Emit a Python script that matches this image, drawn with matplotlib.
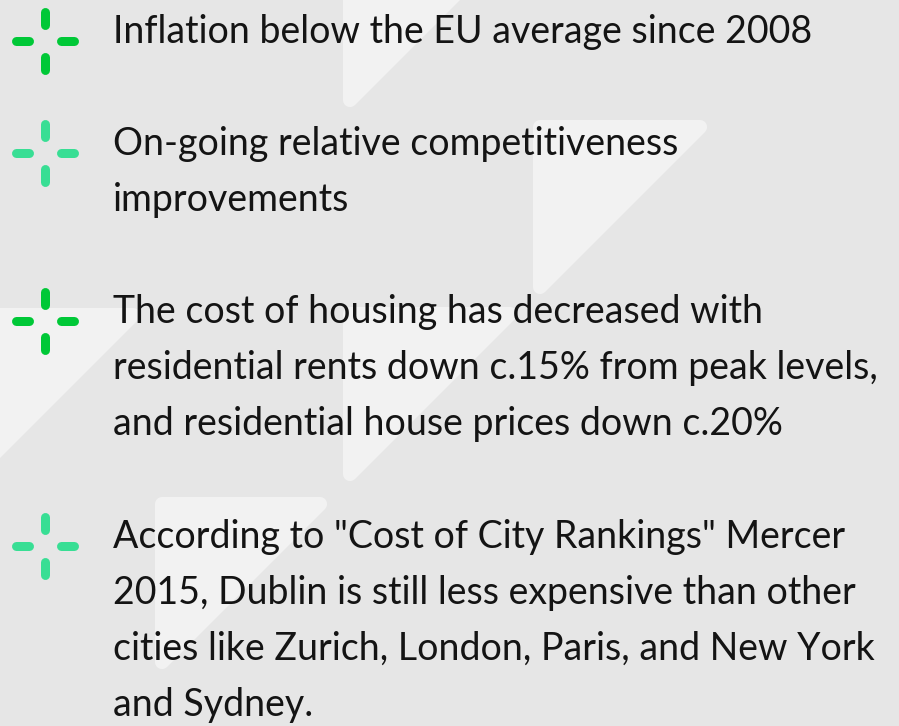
import numpy as np
import matplotlib.pyplot as plt
from matplotlib.patches import Polygon

# bullet texts, one list of lines per bullet
bullets = [
    ["Inflation below the EU average since 2008"],
    ["On-going relative competitiveness",
     "improvements"],
    ["The cost of housing has decreased with",
     "residential rents down c.15% from peak levels,",
     "and residential house prices down c.20%"],
    ["According to \"Cost of City Rankings\" Mercer",
     "2015, Dublin is still less expensive than other",
     "cities like Zurich, London, Paris, and New York",
     "and Sydney."],
]
icon_colors = ["#00c837", "#38de94", "#00c837", "#38de94"]

# layout (pixels, y down)
W, H = 899, 726
first_baseline = [43, 155, 323, 548]
line_step = 56
text_x = 113
icon_x = 45

# background triangles: top-left corner x, y and leg size
tri_x = [-101, 343, 533, -34, 343, 155]
tri_y = [-101, -67, 120, 308, 307, 497]
tri_s = [184, 184, 184, 184, 184, 182]

BG = "#e6e6e6"
LIGHT = "#f2f2f2"
TEXT = "#141414"

fig = plt.figure(figsize=(W / 100, H / 100), dpi=100)
fig.patch.set_facecolor(BG)
ax = fig.add_axes([0, 0, 1, 1])
ax.set_xlim(0, W)
ax.set_ylim(H, 0)
ax.set_facecolor(BG)
ax.axis("off")

r = 7
k = r * (1 + np.sqrt(2))
for x0, y0, s in zip(tri_x, tri_y, tri_s):
    pts = [(x0 + r, y0 + r), (x0 + s - k, y0 + r), (x0 + r, y0 + s - k)]
    ax.add_patch(Polygon(pts, closed=True, facecolor=LIGHT, edgecolor=LIGHT,
                         linewidth=2 * r * 0.72, joinstyle="round", zorder=1))

# cross icons
arm_in, arm_out = 16, 29
lw = 9 * 0.72
for yb, col in zip(first_baseline, icon_colors):
    cy = yb - 2
    for dx, dy in [(0, -1), (0, 1), (-1, 0), (1, 0)]:
        ax.plot([icon_x + dx * arm_in, icon_x + dx * arm_out],
                [cy + dy * arm_in, cy + dy * arm_out],
                color=col, lw=lw, solid_capstyle="round", zorder=3)

for lines, yb in zip(bullets, first_baseline):
    for i, line in enumerate(lines):
        ax.text(text_x, yb + i * line_step, line, fontsize=27,
                family=["Lato", "DejaVu Sans"],
                color=TEXT, va="baseline", ha="left", zorder=4)

fig.savefig("out.png", dpi=100, facecolor=BG)
